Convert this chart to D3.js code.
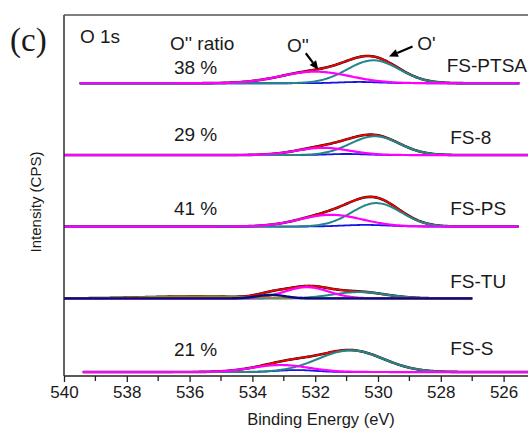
<!DOCTYPE html>
<html>
<head>
<meta charset="utf-8">
<script src="https://cdn.jsdelivr.net/npm/d3@7"></script>
<style>
  html, body { margin: 0; padding: 0; background: #fff; }
  svg { display: block; }
  text { font-family: "Liberation Sans", Arial, sans-serif; fill: #1a1a1a; }
</style>
</head>
<body>
<script>
// O 1s XPS spectra with fitted components, stacked by sample
const samples = ["FS-PTSA", "FS-8", "FS-PS", "FS-TU", "FS-S"];
const ratioLabels = ["38 %", "29 %", "41 %", "", "21 %"];
const stackOffsets = [81.1, 61.2, 41.4, 21.5, 1.1];          // vertical offset of each spectrum (a.u.)
const energyStart = [539.5, 540.0, 540.0, 540.0, 539.4];      // fitted range, eV
const energyEnd   = [525.5, 525.0, 525.5, 527.0, 525.2];

// O'' component (magenta)
const o2Center = [532.0, 531.75, 531.5, 532.27, 533.1];
const o2Height = [3.2, 2.0, 3.25, 3.1, 1.95];
const o2Fwhm   = [2.6, 2.0, 2.35, 1.65, 2.1];

// O' component (teal)
const o1Center = [530.15, 530.1, 530.05, 530.6, 530.87];
const o1Height = [6.35, 5.2, 6.5, 1.75, 6.0];
const o1Fwhm   = [1.95, 1.85, 1.85, 2.0, 2.45];

// minor component (blue)
const o3Center = [530.6, 531.0, 530.4, 531.0, 532.6];
const o3Height = [0.35, 0.3, 0.45, 0.0, 0.55];
const o3Fwhm   = [1.5, 1.4, 1.7, 1.4, 1.4];

// extra components of FS-TU
const tuOliveCenter = 535.8, tuOliveHeight = 0.55, tuOliveFwhm = 3.8;
const tuNavyCenter  = 533.4, tuNavyHeight  = 0.97, tuNavyFwhm  = 1.05;

const xTicks = [540, 538, 536, 534, 532, 530, 528, 526];
const xMinorTicks = [539, 537, 535, 533, 531, 529, 527, 525];

const W = 528, H = 430;
const svg = d3.select("body").append("svg").attr("width", W).attr("height", H);

const x = d3.scaleLinear().domain([540, 525]).range([64, 535]);
const y = d3.scaleLinear().domain([0, 100]).range([376, 15]);

const COLORS = {
  data: "#111", fit: "#ff0000", o1: "#23878a", o2: "#ff00ff",
  o3: "#1414e6", olive: "#8f8f1a", navy: "#0a0a80"
};

function peak(c, h, fwhm) {
  const s = fwhm / 2.3548;
  return e => h * Math.exp(-((e - c) * (e - c)) / (2 * s * s));
}

const line = d3.line().x(d => x(d[0])).y(d => y(d[1])).curve(d3.curveLinear);
const plot = svg.append("g");

samples.forEach((name, i) => {
  const grid = d3.range(energyStart[i], energyEnd[i] - 0.001, -0.04);
  const off = stackOffsets[i];
  const comps = [];
  comps.push({ key: "o3", f: peak(o3Center[i], o3Height[i], o3Fwhm[i]), w: 1.8 });
  comps.push({ key: "o1", f: peak(o1Center[i], o1Height[i], o1Fwhm[i]), w: 2.0 });
  comps.push({ key: "o2", f: peak(o2Center[i], o2Height[i], o2Fwhm[i]), w: 2.2 });
  if (name === "FS-TU") {
    comps.push({ key: "olive", f: peak(tuOliveCenter, tuOliveHeight, tuOliveFwhm), w: 2.0 });
    comps.push({ key: "navy", f: peak(tuNavyCenter, tuNavyHeight, tuNavyFwhm), w: 2.4 });
  }
  const envelope = e => comps.reduce((s, c) => s + c.f(e), 0);
  const env = grid.map(e => [e, off + envelope(e)]);

  const g = plot.append("g").attr("class", "spectrum");
  g.append("path").attr("d", line(env)).attr("fill", "none")
    .attr("stroke", COLORS.data).attr("stroke-width", 2.6);
  g.append("path").attr("d", line(env)).attr("fill", "none")
    .attr("stroke", COLORS.fit).attr("stroke-width", 1.7);
  comps.forEach(c => {
    g.append("path").attr("d", line(grid.map(e => [e, off + c.f(e)])))
      .attr("fill", "none").attr("stroke", COLORS[c.key])
      .attr("stroke-width", c.w).attr("stroke-linejoin", "round");
  });
});

// frame: left axis and top border
svg.append("line").attr("x1", 64).attr("x2", 64).attr("y1", 15).attr("y2", 376)
  .attr("stroke", "#222").attr("stroke-width", 1.4);
svg.append("line").attr("x1", 64).attr("x2", W).attr("y1", 15).attr("y2", 15)
  .attr("stroke", "#555").attr("stroke-width", 1.6);

// bottom axis
const xAxis = d3.axisBottom(x).tickValues(xTicks).tickSize(6).tickPadding(4).tickFormat(d3.format("d"));
const gx = svg.append("g").attr("transform", "translate(0,376)").call(xAxis);
gx.select(".domain").attr("stroke", "#222").attr("stroke-width", 1.4).attr("d", `M64,0H${W}`);
gx.selectAll(".tick line").attr("stroke", "#222").attr("stroke-width", 1.3);
gx.selectAll(".tick text").style("font-size", "17px").attr("fill", "#1a1a1a")
  .style("font-family", "'Liberation Sans', Arial, sans-serif");
gx.selectAll(".minor").data(xMinorTicks).enter().append("line")
  .attr("x1", d => x(d)).attr("x2", d => x(d)).attr("y1", 0).attr("y2", 5)
  .attr("stroke", "#222").attr("stroke-width", 1.3);

svg.append("text").attr("x", 321).attr("y", 425).attr("text-anchor", "middle")
  .style("font-size", "16.5px").text("Binding Energy (eV)");
svg.append("text").attr("transform", "translate(41,202) rotate(-90)")
  .attr("text-anchor", "middle").style("font-size", "15px").text("Intensity (CPS)");

// panel tag and headers
svg.append("text").attr("x", 10).attr("y", 51)
  .style("font-family", "'Liberation Serif', 'Times New Roman', serif")
  .style("font-size", "33px").text("(c)");
svg.append("text").attr("x", 80).attr("y", 43).style("font-size", "19px").text("O 1s");
svg.append("text").attr("x", 170).attr("y", 50).style("font-size", "19px").text("O'' ratio");

// sample names and O'' ratios
const nameDy = [-11.6, -11, -11.7, -10.6, -16.7];
const ratioDy = [-9.3, -14.3, -11.7, 0, -15.7];
samples.forEach((name, i) => {
  const t = svg.append("text").attr("x", x(527.7)).attr("y", y(stackOffsets[i]) + nameDy[i])
    .style("font-size", "19px").text(name);
  // keep the longest name inside the right edge
  const right = x(527.7) + t.node().getComputedTextLength();
  if (right > W - 1) t.attr("x", x(527.7) - (right - (W - 1)));
  if (ratioLabels[i]) {
    svg.append("text").attr("x", x(536.5)).attr("y", y(stackOffsets[i]) + ratioDy[i])
      .style("font-size", "19px").text(ratioLabels[i]);
  }
});

// peak annotations with arrows
function arrow(e0, v0, e1, v1) {
  const x0 = x(e0), y0 = y(v0), x1 = x(e1), y1 = y(v1);
  const ang = Math.atan2(y1 - y0, x1 - x0);
  const L = 9, Wd = 4;
  const bx = x1 - L * Math.cos(ang), by = y1 - L * Math.sin(ang);
  svg.append("line").attr("x1", x0).attr("y1", y0).attr("x2", bx).attr("y2", by)
    .attr("stroke", "#000").attr("stroke-width", 2.2);
  const px = -Math.sin(ang) * Wd, py = Math.cos(ang) * Wd;
  svg.append("path")
    .attr("d", `M${x1},${y1}L${bx + px},${by + py}L${bx - px},${by - py}Z`)
    .attr("fill", "#000");
}
svg.append("text").attr("x", x(532.9)).attr("y", 52).style("font-size", "19px").text("O''");
arrow(532.3, 89.4, 531.9, 84.8);
svg.append("text").attr("x", x(528.75)).attr("y", 50).style("font-size", "19px").text("O'");
arrow(528.9, 91.3, 529.65, 88.5);
</script>
</body>
</html>
